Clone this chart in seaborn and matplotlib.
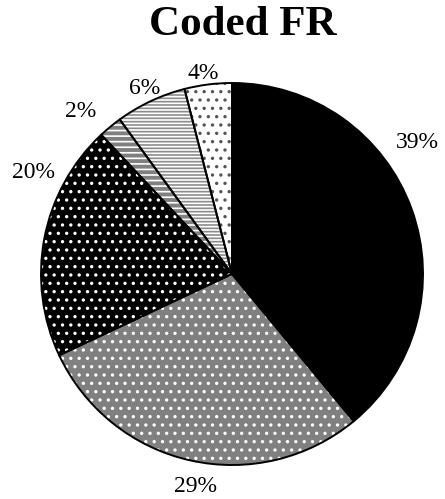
import matplotlib
matplotlib.use("Agg")
import matplotlib.pyplot as plt
import seaborn as sns

# values (clockwise from 12 o'clock)
shares = [39, 29, 20, 2, 6, 4]
pct_labels = ["39%", "29%", "20%", "2%", "6%", "4%"]
face_colors = ["black", "#808080", "black", "#808080", "white", "white"]
hatch_colors = ["black", "white", "white", "white", "#8c8c8c", "#555555"]
hatches = [None, "..", "..", "---", "-----", ".."]
# label spots, in units of the pie radius
label_x = [0.97, -0.19, -1.04, -0.79, -0.46, -0.15]
label_y = [0.69, -1.11, 0.53, 0.85, 0.97, 1.05]

sns.set_style("white")
plt.rcParams["font.family"] = ["Liberation Serif", "DejaVu Serif"]
plt.rcParams["text.color"] = "black"
plt.rcParams["hatch.linewidth"] = 1.2

fig = plt.figure(figsize=(4.45, 4.99), dpi=100)
ax = fig.add_axes([0, 0, 1, 1])

# filled + hatched wedges (hatch takes the edge colour)
wedges, _ = ax.pie(shares, startangle=90, counterclock=False,
                   colors=face_colors,
                   wedgeprops=dict(linewidth=0))
for w, h, hc in zip(wedges, hatches, hatch_colors):
    w.set_edgecolor(hc)
    w.set_linewidth(0)
    if h:
        w.set_hatch(h)

# black outlines on top
ax.pie(shares, startangle=90, counterclock=False,
       wedgeprops=dict(facecolor="none", edgecolor="black", linewidth=1.4))

for x, y, t in zip(label_x, label_y, pct_labels):
    ax.text(x, y, t, ha="center", va="center", fontsize=17, color="black")

ax.set_xlim(-232 / 191, (445 - 232) / 191)
ax.set_ylim(-(499 - 274) / 191, 274 / 191)
ax.axis("off")

fig.text(243 / 445, 1 - 25 / 499, "Coded FR", ha="center", va="center",
         fontsize=31, fontweight="bold", color="black")

fig.savefig("out.png", dpi=100)
